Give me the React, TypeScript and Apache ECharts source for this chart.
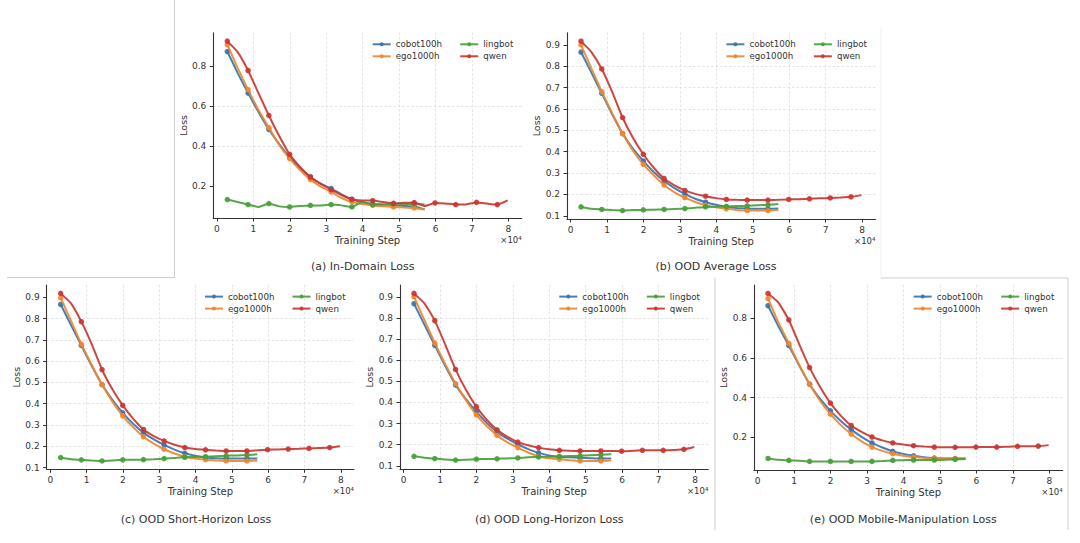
import React, { useEffect, useRef } from "react";
import * as echarts from "echarts";

// ---------------- DATA ----------------
const stepsShort = [2850, 5700, 8550, 11400, 14250, 17100, 19950, 22800, 25650, 28500, 31350, 34200, 37050, 39900, 42750, 45600, 48450, 51300, 54150, 57000];
const stepsLong = [2850, 5700, 8550, 11400, 14250, 17100, 19950, 22800, 25650, 28500, 31350, 34200, 37050, 39900, 42750, 45600, 48450, 51300, 54150, 57000, 59850, 62700, 65550, 68400, 71250, 74100, 76950, 79800];

const seriesNames = ["cobot100h", "ego1000h", "lingbot", "qwen"];
const panelTitles = [
  "(a) In-Domain Loss",
  "(b) OOD Average Loss",
  "(c) OOD Short-Horizon Loss",
  "(d) OOD Long-Horizon Loss",
  "(e) OOD Mobile-Manipulation Loss",
];

const xTicks = [0, 10000, 20000, 30000, 40000, 50000, 60000, 70000, 80000];
const yTicksCoarse = [0.2, 0.4, 0.6, 0.8];
const yTicksFine = [0.1, 0.2, 0.3, 0.4, 0.5, 0.6, 0.7, 0.8, 0.9];

// (a) In-Domain
const aCobot = [0.873, 0.765, 0.665, 0.57, 0.483, 0.41, 0.345, 0.29, 0.245, 0.212, 0.187, 0.158, 0.133, 0.118, 0.11, 0.107, 0.104, 0.1, 0.097, 0.083];
const aEgo = [0.907, 0.79, 0.682, 0.58, 0.492, 0.405, 0.337, 0.28, 0.232, 0.197, 0.17, 0.14, 0.12, 0.11, 0.103, 0.099, 0.095, 0.093, 0.09, 0.082];
const aLingbot = [0.132, 0.12, 0.107, 0.095, 0.112, 0.098, 0.095, 0.1, 0.103, 0.103, 0.107, 0.103, 0.095, 0.12, 0.108, 0.108, 0.112, 0.11, 0.11, 0.108];
const aQwen = [0.925, 0.87, 0.778, 0.665, 0.553, 0.45, 0.358, 0.295, 0.245, 0.21, 0.182, 0.155, 0.133, 0.128, 0.127, 0.12, 0.113, 0.116, 0.117, 0.1, 0.115, 0.113, 0.107, 0.108, 0.118, 0.112, 0.107, 0.128];

// (b) OOD Average
const bCobot = [0.866, 0.77, 0.673, 0.575, 0.485, 0.415, 0.357, 0.305, 0.263, 0.23, 0.203, 0.18, 0.164, 0.152, 0.142, 0.137, 0.134, 0.133, 0.133, 0.134];
const bEgo = [0.9, 0.79, 0.681, 0.58, 0.485, 0.405, 0.341, 0.29, 0.244, 0.21, 0.185, 0.165, 0.15, 0.14, 0.133, 0.128, 0.125, 0.125, 0.125, 0.127];
const bLingbot = [0.142, 0.133, 0.13, 0.127, 0.125, 0.127, 0.128, 0.129, 0.13, 0.132, 0.134, 0.138, 0.142, 0.143, 0.144, 0.146, 0.147, 0.15, 0.152, 0.155];
const bQwen = [0.917, 0.866, 0.787, 0.68, 0.56, 0.465, 0.388, 0.325, 0.275, 0.243, 0.219, 0.203, 0.192, 0.183, 0.177, 0.175, 0.174, 0.174, 0.174, 0.175, 0.177, 0.178, 0.18, 0.182, 0.184, 0.186, 0.189, 0.197];

// (c) OOD Short-Horizon
const cCobot = [0.867, 0.77, 0.674, 0.578, 0.49, 0.418, 0.357, 0.306, 0.264, 0.232, 0.206, 0.184, 0.167, 0.155, 0.147, 0.144, 0.142, 0.142, 0.142, 0.142];
const cEgo = [0.898, 0.79, 0.68, 0.582, 0.49, 0.41, 0.343, 0.29, 0.245, 0.212, 0.186, 0.166, 0.151, 0.142, 0.137, 0.133, 0.131, 0.131, 0.131, 0.133];
const cLingbot = [0.147, 0.139, 0.136, 0.133, 0.131, 0.133, 0.136, 0.136, 0.137, 0.139, 0.142, 0.145, 0.148, 0.15, 0.151, 0.153, 0.155, 0.157, 0.159, 0.162];
const cQwen = [0.919, 0.872, 0.786, 0.68, 0.56, 0.468, 0.392, 0.33, 0.279, 0.248, 0.225, 0.207, 0.194, 0.187, 0.183, 0.18, 0.178, 0.178, 0.178, 0.181, 0.184, 0.185, 0.187, 0.188, 0.19, 0.192, 0.194, 0.2];

// (d) OOD Long-Horizon
const dCobot = [0.867, 0.768, 0.67, 0.573, 0.483, 0.415, 0.356, 0.303, 0.259, 0.228, 0.202, 0.179, 0.161, 0.149, 0.142, 0.14, 0.138, 0.136, 0.134, 0.134];
const dEgo = [0.9, 0.79, 0.681, 0.582, 0.489, 0.41, 0.341, 0.288, 0.244, 0.211, 0.186, 0.163, 0.145, 0.136, 0.131, 0.126, 0.123, 0.123, 0.123, 0.125];
const dLingbot = [0.145, 0.138, 0.134, 0.13, 0.127, 0.129, 0.131, 0.132, 0.133, 0.135, 0.137, 0.14, 0.142, 0.143, 0.144, 0.146, 0.147, 0.15, 0.152, 0.155];
const dQwen = [0.916, 0.869, 0.787, 0.675, 0.556, 0.46, 0.38, 0.318, 0.27, 0.237, 0.212, 0.197, 0.186, 0.178, 0.173, 0.171, 0.17, 0.17, 0.17, 0.17, 0.169, 0.171, 0.173, 0.173, 0.173, 0.175, 0.178, 0.189];

// (e) OOD Mobile-Manipulation
const eCobot = [0.864, 0.76, 0.663, 0.562, 0.468, 0.395, 0.334, 0.283, 0.239, 0.203, 0.172, 0.149, 0.13, 0.117, 0.107, 0.1, 0.096, 0.094, 0.093, 0.093];
const eEgo = [0.9, 0.78, 0.674, 0.566, 0.468, 0.385, 0.317, 0.262, 0.217, 0.18, 0.151, 0.132, 0.118, 0.108, 0.101, 0.097, 0.094, 0.093, 0.093, 0.093];
const eLingbot = [0.094, 0.087, 0.084, 0.082, 0.079, 0.079, 0.079, 0.078, 0.079, 0.079, 0.079, 0.081, 0.084, 0.085, 0.086, 0.086, 0.086, 0.087, 0.089, 0.091];
const eQwen = [0.926, 0.88, 0.792, 0.67, 0.552, 0.455, 0.373, 0.31, 0.26, 0.228, 0.202, 0.185, 0.172, 0.164, 0.158, 0.154, 0.151, 0.15, 0.15, 0.15, 0.151, 0.151, 0.151, 0.153, 0.155, 0.155, 0.156, 0.161];

const panelData = [
  [aCobot, aEgo, aLingbot, aQwen],
  [bCobot, bEgo, bLingbot, bQwen],
  [cCobot, cEgo, cLingbot, cQwen],
  [dCobot, dEgo, dLingbot, dQwen],
  [eCobot, eEgo, eLingbot, eQwen],
];
const panelYTicks = [yTicksCoarse, yTicksFine, yTicksFine, yTicksFine, yTicksCoarse];
const seriesSteps = [stepsShort, stepsShort, stepsShort, stepsLong];

// ---------------- STYLE / LAYOUT ----------------
const FONT = "DejaVu Sans";
const TEXT = "#333333";
const colors = ["#3674b0", "#f0862f", "#47a03a", "#cb3631"];

const layout = [
  { left: 213.3, top: 32.7, width: 308.4, height: 185.3, capX: 362.7, capY: 266.7 },
  { left: 567, top: 32.7, width: 308.4, height: 186.3, capX: 716, capY: 266.7 },
  { left: 46.7, top: 285, width: 307.3, height: 184.3, capX: 196, capY: 519.3 },
  { left: 400, top: 285, width: 308.3, height: 184.3, capX: 549.3, capY: 519.3 },
  { left: 754, top: 285, width: 308.7, height: 185, capX: 903.3, capY: 519.3 },
];

function buildOption() {
  const xFirst = stepsLong[0];
  const xLast = stepsLong[stepsLong.length - 1];
  const xMin = xFirst - 0.05 * (xLast - xFirst);
  const xMax = xLast + 0.05 * (xLast - xFirst);

  const grid: any[] = [];
  const xAxis: any[] = [];
  const yAxis: any[] = [];
  const series: any[] = [];
  const legend: any[] = [];
  const graphic: any[] = [];

  panelData.forEach((sets, i) => {
    const L = layout[i];
    const all = sets.flat();
    const lo = Math.min(...all);
    const hi = Math.max(...all);
    const yMin = lo - 0.05 * (hi - lo);
    const yMax = hi + 0.05 * (hi - lo);

    grid.push({ left: L.left, top: L.top, width: L.width, height: L.height, containLabel: false, outerBoundsMode: "none" });

    const splitLine = {
      show: true,
      showMinLine: false,
      showMaxLine: false,
      lineStyle: { type: [2.5, 2], color: "#dddddd", width: 0.8 },
    };

    xAxis.push({
      type: "value",
      gridIndex: i,
      min: xMin,
      max: xMax,
      name: "Training Step",
      nameLocation: "middle",
      nameGap: 17,
      nameTextStyle: { fontSize: 10, color: TEXT, fontFamily: FONT },
      axisLine: { show: true, onZero: false, lineStyle: { color: "#333333", width: 1.1 } },
      axisTick: { show: true, length: 3.5, customValues: xTicks, lineStyle: { color: "#333333", width: 1 } },
      axisLabel: {
        customValues: xTicks,
        formatter: (v: number) => String(Math.round(v / 10000)),
        fontSize: 9,
        color: TEXT,
        margin: 6,
        fontFamily: FONT,
      },
      splitLine,
    });

    yAxis.push({
      type: "value",
      gridIndex: i,
      min: yMin,
      max: yMax,
      name: "Loss",
      nameLocation: "middle",
      nameGap: 23,
      nameTextStyle: { fontSize: 9.5, color: TEXT, fontFamily: FONT },
      axisLine: { show: true, onZero: false, lineStyle: { color: "#333333", width: 1.1 } },
      axisTick: { show: true, length: 3.5, customValues: panelYTicks[i], lineStyle: { color: "#333333", width: 1 } },
      axisLabel: {
        customValues: panelYTicks[i],
        formatter: (v: number) => v.toFixed(1),
        fontSize: 9,
        color: TEXT,
        margin: 7,
        fontFamily: FONT,
      },
      splitLine,
    });

    sets.forEach((vals, s) => {
      const steps = seriesSteps[s];
      series.push({
        type: "line",
        name: seriesNames[s],
        xAxisIndex: i,
        yAxisIndex: i,
        data: vals.map((v, j) => ({ value: [steps[j], v], symbol: j % 2 === 0 ? "circle" : "none" })),
        symbol: "circle",
        symbolSize: 5.5,
        showAllSymbol: true,
        smooth: 0.15,
        z: 2 + s,
        lineStyle: { width: 2, color: colors[s], opacity: 0.92 },
        itemStyle: { color: colors[s], opacity: 0.92 },
        emphasis: { disabled: true },
        silent: true,
      });
    });

    const right = L.left + L.width;
    const legendCommon = {
      orient: "vertical",
      top: L.top + 6.6,
      padding: 0,
      itemWidth: 18,
      itemHeight: 5,
      itemGap: 2,
      textStyle: { fontSize: 8.7, lineHeight: 10, color: TEXT, fontFamily: FONT },
      selectedMode: false,
    };
    legend.push({ ...legendCommon, left: right - 150, data: [seriesNames[0], seriesNames[1]] });
    legend.push({ ...legendCommon, left: right - 62.5, data: [seriesNames[2], seriesNames[3]] });

    graphic.push({
      type: "text",
      x: right,
      y: L.top + L.height + 21.5,
      style: { text: "×10⁴", fontSize: 8.5, fill: TEXT, fontFamily: FONT, align: "right", verticalAlign: "middle" },
    });
    graphic.push({
      type: "text",
      x: L.capX,
      y: L.capY,
      style: { text: panelTitles[i], fontSize: 11, fill: TEXT, fontFamily: FONT, align: "center", verticalAlign: "middle" },
    });
  });

  const frame = (x1: number, y1: number, x2: number, y2: number, color: string) => ({
    type: "line",
    shape: { x1, y1, x2, y2 },
    style: { stroke: color, lineWidth: 1 },
    silent: true,
  });
  graphic.push(frame(174.5, 0, 174.5, 278, "#cfcfcf"));
  graphic.push(frame(7, 277.5, 174.5, 277.5, "#cfcfcf"));
  graphic.push(frame(881, 27, 881, 278, "#f0f0f0"));
  graphic.push(frame(881, 278, 1068, 278, "#cfcfcf"));
  graphic.push(frame(715, 278, 715, 530, "#cfcfcf"));
  graphic.push(frame(1068, 278, 1068, 530, "#cfcfcf"));

  return {
    animation: false,
    backgroundColor: "#ffffff",
    textStyle: { fontFamily: FONT },
    grid,
    xAxis,
    yAxis,
    legend,
    series,
    graphic,
  };
}

export default function App() {
  const ref = useRef<HTMLDivElement>(null);
  useEffect(() => {
    if (!ref.current) return;
    const chart = echarts.init(ref.current, undefined, { renderer: "svg" });
    chart.setOption(buildOption() as any);
    return () => chart.dispose();
  }, []);
  return (
    <div
      ref={ref}
      style={{ position: "absolute", left: 0, top: 0, width: 1080, height: 543, background: "#fff" }}
    />
  );
}
